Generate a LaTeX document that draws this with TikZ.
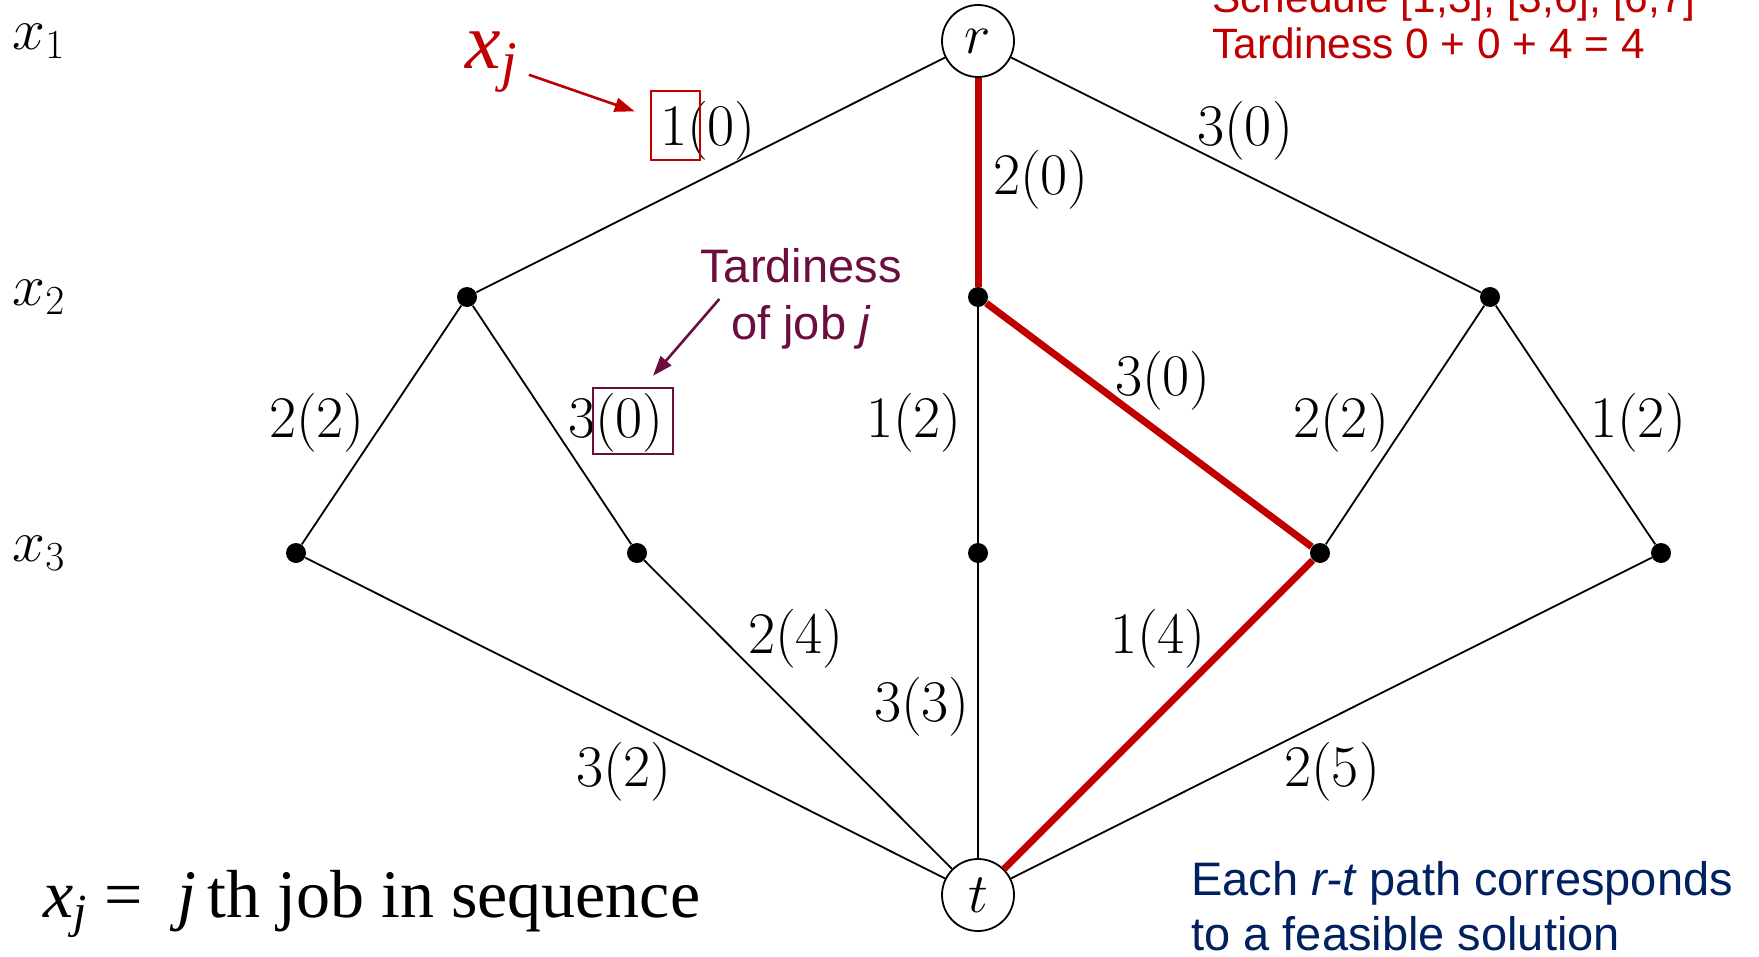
\documentclass[tikz,border=0pt]{standalone}
\usepackage{fix-cm}
\usepackage{fontspec}
\newfontfamily\arialfont{Liberation Sans}
\newfontfamily\cambriafont{Liberation Serif}
\usepackage{tikz}
\usetikzlibrary{arrows.meta}
\definecolor{darkred}{HTML}{C00000}
\definecolor{maroon}{HTML}{6B0D3E}
\definecolor{navy}{HTML}{002060}

\begin{document}
\begin{tikzpicture}[x=0.5pt, y=-0.5pt,
  lm/.style={font=\fontsize{29.5}{36}\selectfont, inner sep=0pt},
  term/.style={circle, draw, line width=0.9pt, fill=white, minimum size=36pt,
               inner sep=0pt, font=\fontsize{28}{34}\selectfont},
  dot/.style={circle, fill, minimum size=10pt, inner sep=0pt},
  arc/.style={line width=0.9pt},
  hot/.style={line width=3.5pt, darkred},
  mark box/.style={draw, line width=1.2pt, inner sep=0pt},
  note/.style={font=\arialfont\fontsize{23.5}{28.5}\selectfont, align=center},
  callout/.style={-{Triangle[length=10pt,width=7pt]}, line width=1.3pt}]
  % page frame, pixel coordinates of the slide
  \clip (0,0) rectangle (1759,957);
  % layer names
  \node[lm] (x1) at (39,41)  {$x_1$};
  \node[lm] (x2) at (39,297) {$x_2$};
  \node[lm] (x3) at (39,553) {$x_3$};
  % decision diagram
  \node[term] (r)  at (978,41)  {$r$};
  \node[dot]  (u1) at (467,297) {};
  \node[dot]  (u2) at (978,297) {};
  \node[dot]  (u3) at (1490,297) {};
  \node[dot]  (v1) at (296,553) {};
  \node[dot]  (v2) at (637,553) {};
  \node[dot]  (v3) at (978,553) {};
  \node[dot]  (v4) at (1320,553) {};
  \node[dot]  (v5) at (1661,553) {};
  \node[term] (t)  at (978,895) {$t$};
  \draw[arc] (r) -- (u1);
  \draw[arc] (r) -- (u3);
  \draw[arc] (u1) -- (v1);
  \draw[arc] (u1) -- (v2);
  \draw[arc] (u2) -- (v3);
  \draw[arc] (u3) -- (v4);
  \draw[arc] (u3) -- (v5);
  \draw[arc] (v1) -- (t);
  \draw[arc] (v2) -- (t);
  \draw[arc] (v3) -- (t);
  \draw[arc] (v5) -- (t);
  % the path 2,3,1
  \draw[hot] (r) -- (u2);
  \draw[hot] (u2) -- (v4);
  \draw[hot] (v4) -- (t);
  % arc labels: job (tardiness)
  \node[lm] (a1) at (708,131)  {$1(0)$};
  \node[lm] (a2) at (1041,180) {$2(0)$};
  \node[lm] (a3) at (1245,131) {$3(0)$};
  \node[lm] (b1) at (317,423)  {$2(2)$};
  \node[lm] (b2) at (616,423)  {$3(0)$};
  \node[lm] (b3) at (914,423)  {$1(2)$};
  \node[lm] (b4) at (1163,381) {$3(0)$};
  \node[lm] (b5) at (1341,423) {$2(2)$};
  \node[lm] (b6) at (1638,423) {$1(2)$};
  \node[lm] (c1) at (624,772)  {$3(2)$};
  \node[lm] (c2) at (796,639)  {$2(4)$};
  \node[lm] (c3) at (922,707)  {$3(3)$};
  \node[lm] (c4) at (1158,639) {$1(4)$};
  \node[lm] (c5) at (1332,772) {$2(5)$};
  % callouts
  \node[mark box, darkred, minimum width=24.5pt, minimum height=34.5pt] (jobbox) at (675.5,125.5) {};
  \node[mark box, maroon, minimum width=40pt, minimum height=33pt] (tardbox) at (633,421) {};
  \node[text=darkred, font=\cambriafont\fontsize{40}{44}\selectfont\itshape] (xj) at (492,62) {x\textsubscript{j}};
  \draw[callout, darkred, shorten <=2pt, shorten >=8pt] (xj) -- (jobbox);
  \node[note, text=maroon] (tard) at (801,299) {Tardiness\\of job \textit{j}};
  \draw[callout, maroon] ([xshift=13pt,yshift=0pt]tard.west) -- ([xshift=10pt,yshift=5.5pt]tardbox.north);
  % schedule of the red path
  \node[anchor=base west, inner sep=0pt, text=darkred, font=\arialfont\fontsize{21.2}{24}\selectfont] (sched) at (1212,13) {Schedule [1,3], [3,6], [6,7]};
  \node[anchor=base west, inner sep=0pt, text=darkred, font=\arialfont\fontsize{21.2}{24}\selectfont] (total) at (1212,59) {Tardiness 0 + 0 + 4 = 4};
  % legend
  \node[anchor=base west, inner sep=0pt, font=\cambriafont\fontsize{34}{40}\selectfont] (def) at (43,917)
    {\itshape x\textsubscript{j}\upshape\ =\ \ \itshape j\upshape\,th job in sequence};
  \node[anchor=base west, inner sep=0pt, text=navy, font=\arialfont\fontsize{23.5}{28}\selectfont] (each) at (1191,895) {Each \textit{r-t} path corresponds};
  \node[anchor=base west, inner sep=0pt, text=navy, font=\arialfont\fontsize{23.5}{28}\selectfont] (feas) at (1191,950) {to a feasible solution};
\end{tikzpicture}
\end{document}
